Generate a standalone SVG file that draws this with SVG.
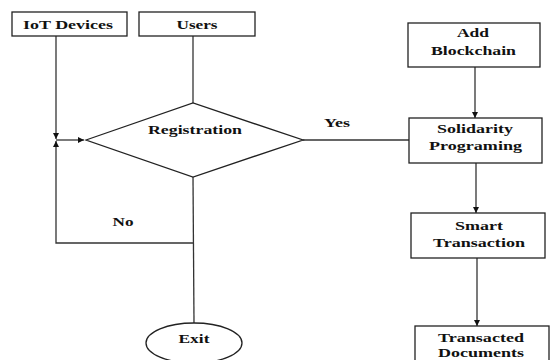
<svg xmlns="http://www.w3.org/2000/svg" width="551" height="360" viewBox="0 0 551 360" font-family="'Liberation Serif', 'Times New Roman', serif">
<defs>
<marker id="arr" viewBox="0 0 8 8" refX="8" refY="4" markerWidth="6" markerHeight="6" markerUnits="userSpaceOnUse" orient="auto">
<path d="M0,0 L8,4 L0,8 Z" fill="#111"/>
</marker>
</defs>
<style>
.box{fill:#fff;stroke:#222;stroke-width:1.3}
.ln{fill:none;stroke:#333;stroke-width:1.3}
.t{font-family:'Liberation Serif','Times New Roman',serif;font-weight:bold;font-size:13.5px;fill:#111;text-anchor:middle}
</style>
<rect width="551" height="360" fill="#fff"/>
<g id="connectors">
<path class="ln" d="M56,36 V139" marker-end="url(#arr)"/>
<path class="ln" d="M56,140 H84" marker-end="url(#arr)"/>
<path class="ln" d="M193,36 V103"/>
<path class="ln" d="M303,140 H409"/>
<path class="ln" d="M475,67 V118" marker-end="url(#arr)"/>
<path class="ln" d="M476,163 V213" marker-end="url(#arr)"/>
<path class="ln" d="M477,258 V326" marker-end="url(#arr)"/>
<path class="ln" d="M193,177 L194,323"/>
<path class="ln" d="M193,243 H56 V141" marker-end="url(#arr)"/>
<text class="t" x="337" y="127" textLength="26" lengthAdjust="spacingAndGlyphs">Yes</text>
<text class="t" x="123" y="226" textLength="21" lengthAdjust="spacingAndGlyphs">No</text>
</g>
<g id="iot">
<rect class="box" x="12" y="12" width="115" height="24"/>
<text class="t" x="68" y="29" textLength="90" lengthAdjust="spacingAndGlyphs">IoT Devices</text>
</g>
<g id="users">
<rect class="box" x="139" y="12" width="116" height="24"/>
<text class="t" x="197" y="29" textLength="41" lengthAdjust="spacingAndGlyphs">Users</text>
</g>
<g id="registration">
<path class="box" d="M86,140 L193,103 L303,140 L193,177 Z"/>
<text class="t" x="195" y="134" textLength="94" lengthAdjust="spacingAndGlyphs">Registration</text>
</g>
<g id="addblockchain">
<rect class="box" x="408" y="23" width="132" height="44"/>
<text class="t" x="473" y="37" textLength="32" lengthAdjust="spacingAndGlyphs">Add</text>
<text class="t" x="473.5" y="55" textLength="85" lengthAdjust="spacingAndGlyphs">Blockchain</text>
</g>
<g id="solidarity">
<rect class="box" x="409" y="118" width="133" height="45"/>
<text class="t" x="475" y="133" textLength="76" lengthAdjust="spacingAndGlyphs">Solidarity</text>
<text class="t" x="475.5" y="150" textLength="93" lengthAdjust="spacingAndGlyphs">Programing</text>
</g>
<g id="smart">
<rect class="box" x="411" y="213" width="134" height="45"/>
<text class="t" x="479" y="230" textLength="48" lengthAdjust="spacingAndGlyphs">Smart</text>
<text class="t" x="479" y="247" textLength="92" lengthAdjust="spacingAndGlyphs">Transaction</text>
</g>
<g id="transacted">
<rect class="box" x="415" y="326" width="134" height="45"/>
<text class="t" x="481" y="342" textLength="86" lengthAdjust="spacingAndGlyphs">Transacted</text>
<text class="t" x="481" y="357" textLength="86" lengthAdjust="spacingAndGlyphs">Documents</text>
</g>
<g id="exit">
<ellipse class="box" cx="194" cy="343" rx="48" ry="20"/>
<text class="t" x="194" y="343" textLength="31" lengthAdjust="spacingAndGlyphs">Exit</text>
</g>
</svg>
